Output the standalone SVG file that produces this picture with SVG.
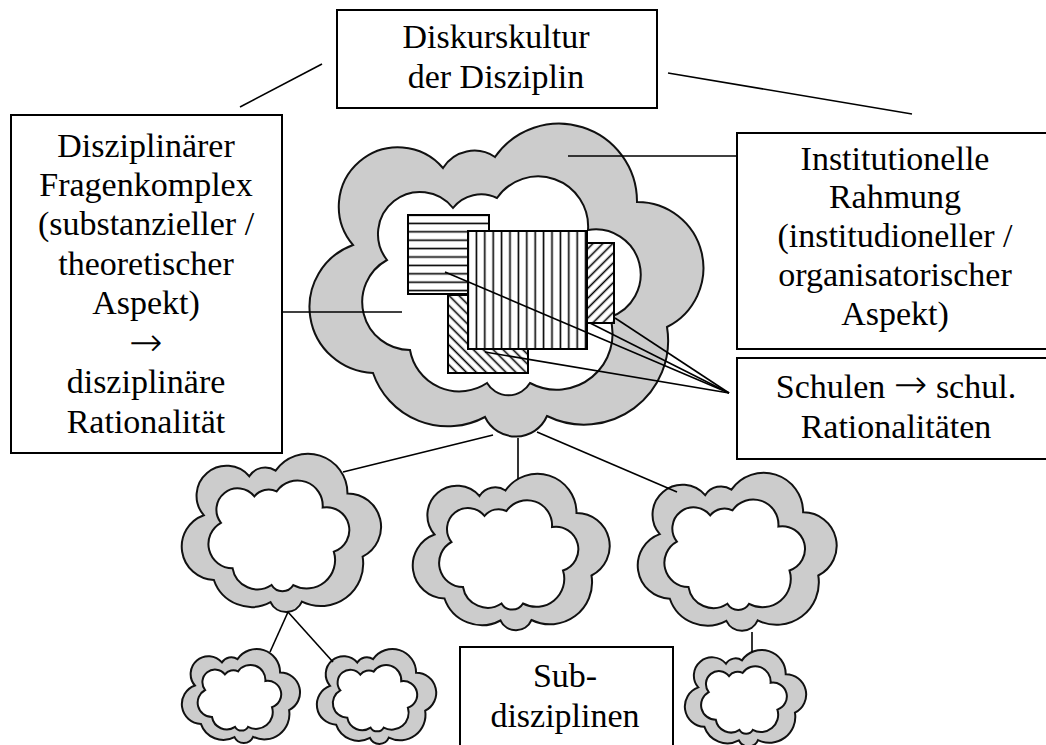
<svg xmlns="http://www.w3.org/2000/svg" xmlns:xlink="http://www.w3.org/1999/xlink" width="1046" height="745" viewBox="0 0 1046 745">
<style>
.box{fill:#fff;stroke:#000;stroke-width:2}
.t{font-family:"Liberation Serif","Times New Roman",serif;font-size:34px;fill:#000;text-anchor:middle}
.ar{font-family:"DejaVu Sans",sans-serif;font-weight:200;font-size:40px}
.clo{fill:#cccccc;stroke:#111;stroke-width:2;vector-effect:non-scaling-stroke}
.cli{fill:#fff;stroke:#111;stroke-width:2;vector-effect:non-scaling-stroke}
.conn line{stroke:#000;stroke-width:1.6;fill:none}
.hr{stroke:#000;stroke-width:2}
.hl{stroke:#000;stroke-width:1.6}
</style>
<defs>
<pattern id="phor" patternUnits="userSpaceOnUse" x="0" y="210.8" width="10" height="8.4">
<rect width="10" height="8.4" fill="#fff"/><line class="hl" x1="0" y1="4.2" x2="10" y2="4.2"/>
</pattern>
<pattern id="pver" patternUnits="userSpaceOnUse" x="463.8" y="0" width="8.4" height="10">
<rect width="8.4" height="10" fill="#fff"/><line class="hl" x1="4.2" y1="0" x2="4.2" y2="10"/>
</pattern>
<pattern id="pfwd" patternUnits="userSpaceOnUse" width="7" height="10" patternTransform="rotate(45)">
<rect width="7" height="10" fill="#fff"/><line class="hl" x1="3.5" y1="0" x2="3.5" y2="10"/>
</pattern>
<pattern id="pbck" patternUnits="userSpaceOnUse" width="7" height="10" patternTransform="rotate(-45)">
<rect width="7" height="10" fill="#fff"/><line class="hl" x1="3.5" y1="0" x2="3.5" y2="10"/>
</pattern>
<g id="cloud">
<path class="clo" d="M43 115A59 59 0 0 1 133 38A37 37 0 0 1 185 27A78 78 0 0 1 327 72A66 66 0 0 1 357 197A84 84 0 0 1 237 286A34 34 0 0 1 175 287A79 79 0 0 1 63 243A66 66 0 0 1 43 115Z"/>
<path class="cli" d="M77 130A42 42 0 0 1 143 78A36 36 0 0 1 187 68A50 50 0 0 1 278 100A45 45 0 0 1 300 187A56 56 0 0 1 220 253A25 25 0 0 1 177 253A50 50 0 0 1 100 220A48 48 0 0 1 77 130Z"/>
</g>
</defs>
<rect width="1046" height="745" fill="#fff"/>

<g id="node-diskurskultur">
<rect class="box" x="337" y="10" width="320" height="98"/>
<text class="t" x="496" y="48">Diskurskultur</text>
<text class="t" x="496" y="88">der Disziplin</text>
</g>

<g id="node-fragenkomplex">
<rect class="box" x="11" y="115" width="271" height="338"/>
<text class="t" x="146" y="157">Disziplinärer</text>
<text class="t" x="146" y="196">Fragenkomplex</text>
<text class="t" x="146" y="235">(substanzieller /</text>
<text class="t" x="146" y="275">theoretischer</text>
<text class="t" x="146" y="314">Aspekt)</text>
<text class="t" x="146" y="356"><tspan class="ar">→</tspan></text>
<text class="t" x="146" y="393">disziplinäre</text>
<text class="t" x="146" y="433">Rationalität</text>
</g>

<g id="node-rahmung">
<rect class="box" x="737" y="133" width="320" height="216"/>
<text class="t" x="895" y="170">Institutionelle</text>
<text class="t" x="895" y="208">Rahmung</text>
<text class="t" x="895" y="247">(institudioneller /</text>
<text class="t" x="895" y="286">organisatorischer</text>
<text class="t" x="895" y="325">Aspekt)</text>
</g>

<g id="node-schulen">
<rect class="box" x="737" y="358" width="320" height="101"/>
<text class="t" x="896" y="398">Schulen <tspan class="ar">→</tspan> schul.</text>
<text class="t" x="896" y="438">Rationalitäten</text>
</g>

<g id="node-subdisziplinen">
<rect class="box" x="460" y="647" width="213" height="110"/>
<text class="t" x="565" y="687">Sub-</text>
<text class="t" x="565" y="727">disziplinen</text>
</g>

<g id="node-disziplin-cloud">
<use xlink:href="#cloud" href="#cloud" transform="translate(310,130)"/>
<rect class="hr" x="448" y="295" width="80" height="78" fill="url(#pbck)"/>
<rect class="hr" x="408" y="215" width="81" height="79" fill="url(#phor)"/>
<rect class="hr" x="575" y="243" width="39" height="80" fill="url(#pfwd)"/>
<rect class="hr" x="468" y="231" width="119" height="118" fill="url(#pver)"/>
</g>

<g id="node-sub-a"><use xlink:href="#cloud" href="#cloud" transform="translate(182,457) scale(0.506)"/></g>
<g id="node-sub-b"><use xlink:href="#cloud" href="#cloud" transform="translate(413,477) scale(0.5)"/></g>
<g id="node-sub-c"><use xlink:href="#cloud" href="#cloud" transform="translate(638,476) scale(0.505)"/></g>
<g id="node-sub-d"><use xlink:href="#cloud" href="#cloud" transform="translate(182,651) scale(0.3)"/></g>
<g id="node-sub-e"><use xlink:href="#cloud" href="#cloud" transform="translate(317,651) scale(0.303)"/></g>
<g id="node-sub-f"><use xlink:href="#cloud" href="#cloud" transform="translate(685,652) scale(0.308)"/></g>

<g id="connectors" class="conn">
<line x1="322" y1="64" x2="240" y2="107"/>
<line x1="668" y1="73" x2="912" y2="114"/>
<line x1="282" y1="312" x2="402" y2="312"/>
<line x1="568" y1="156" x2="737" y2="156"/>
<line x1="729" y1="393" x2="445" y2="272"/>
<line x1="729" y1="393" x2="590" y2="323"/>
<line x1="729" y1="393" x2="615" y2="318"/>
<line x1="729" y1="393" x2="485" y2="352"/>
<line x1="493" y1="435" x2="343" y2="472"/>
<line x1="518" y1="438" x2="518" y2="479"/>
<line x1="537" y1="432" x2="677" y2="492"/>
<line x1="288" y1="612" x2="270" y2="652"/>
<line x1="288" y1="612" x2="333" y2="662"/>
<line x1="752" y1="632" x2="752" y2="652"/>
</g>
</svg>
